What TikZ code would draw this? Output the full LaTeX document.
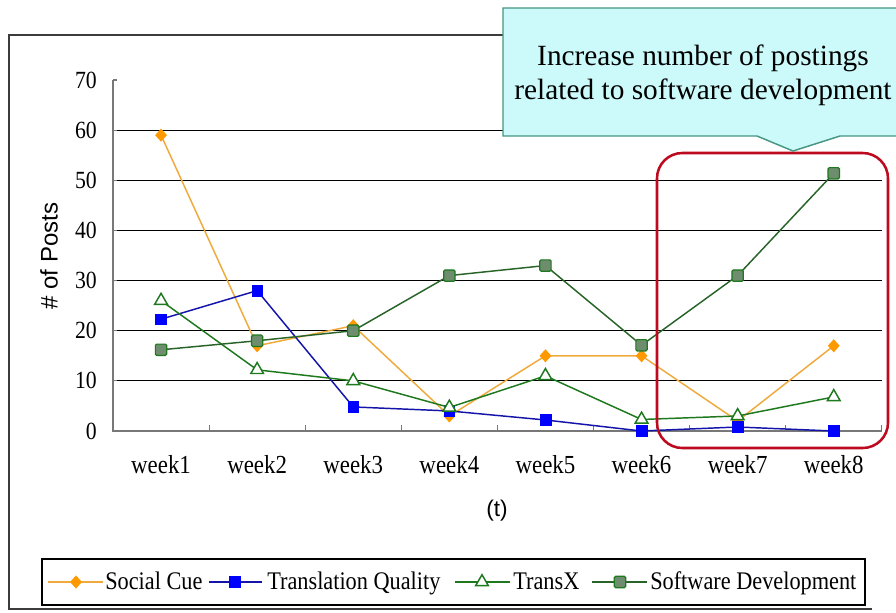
\documentclass[tikz,border=0pt]{standalone}
\usepackage{fontspec}
\setmainfont{Liberation Serif}
\newfontfamily\condserif[FakeStretch=0.88]{Liberation Serif}
\newfontfamily\arialfont{Liberation Sans}
\usetikzlibrary{shapes.geometric}

\definecolor{scOrange}{RGB}{255,153,0}
\definecolor{scLine}{RGB}{240,170,60}
\definecolor{tqBlue}{RGB}{0,0,255}
\definecolor{tqLine}{RGB}{20,20,170}
\definecolor{txGreen}{RGB}{30,120,30}
\definecolor{sdLine}{RGB}{40,100,40}
\definecolor{sdFill}{RGB}{110,140,110}
\definecolor{calloutFill}{RGB}{204,250,250}
\definecolor{calloutEdge}{RGB}{70,150,130}
\definecolor{hiRed}{RGB}{190,10,30}
\definecolor{axisGray}{RGB}{120,120,120}
\definecolor{frameGray}{RGB}{60,60,60}

\tikzset{
  gridline/.style={black, line width=0.7pt},
  axisline/.style={axisGray, line width=0.8pt},
  frameline/.style={frameGray, line width=0.8pt},
  ylab/.style={anchor=east, inner sep=0pt, font=\condserif\fontsize{18.5}{18.5}\selectfont},
  wlab/.style={anchor=center, inner sep=0pt, font=\condserif\fontsize{19.5}{19.5}\selectfont},
  legtext/.style={anchor=base west, inner sep=0pt, font=\condserif\fontsize{19}{19}\selectfont},
  scline/.style={scLine, line width=1.1pt},
  tqline/.style={tqLine, line width=1.1pt},
  txline/.style={txGreen, line width=1.1pt},
  sdline/.style={sdLine, line width=1.1pt},
  scmark/.style={diamond, fill=scOrange, draw=none, inner sep=0pt, minimum width=9pt, minimum height=10pt},
  tqmark/.style={rectangle, fill=tqBlue, draw=tqBlue, line width=0.4pt, inner sep=0pt, minimum size=8pt},
  txmark/.style={regular polygon, regular polygon sides=3, draw=txGreen, fill=white, line width=1.1pt, inner sep=0pt, minimum size=11pt},
  sdmark/.style={rectangle, rounded corners=1pt, fill=sdFill, draw=txGreen, line width=0.9pt, inner sep=0pt, minimum size=8.5pt},
}

\begin{document}
\begin{tikzpicture}[x=0.75pt,y=-0.75pt]
\useasboundingbox (0,0) rectangle (896,612);
\fill[white] (0,0) rectangle (896,612);

% chart frame
\coordinate (frTR) at (896,35);
\coordinate (frTL) at (9,35);
\coordinate (frBL) at (9,609);
\coordinate (frBR) at (872,609);
\draw[frameline] (frTR) -- (frTL) -- (frBL) -- (frBR);

% axis titles
\node[font=\arialfont\fontsize{18}{18}\selectfont, rotate=90] (ytitle) at (49,256) {\# of Posts};
\node[font=\arialfont\fontsize{17}{17}\selectfont] (xtitle) at (497,511) {(t)};

\begin{scope}[shift={(113,431)}, x=72.075pt, y=3.7605pt]
  % gridlines
  \foreach \v in {10,20,...,60} \draw[gridline] (0,\v) -- (8,\v);
  % axes
  \coordinate (ytop) at (0,70);
  \coordinate (orig) at (0,0);
  \coordinate (xend) at (8,0);
  \draw[axisline] (ytop) -- (orig) -- (xend);
  \foreach \v in {0,10,...,70} \draw[axisline] (0,\v) -- ++(3pt,0);
  \foreach \k in {1,...,8} \draw[axisline] (\k,0) -- ++(0,4.5pt);
  % labels
  \foreach \v in {0,10,...,70} \node[ylab] (yl\v) at ([xshift=-12pt]0,\v) {\v};
  \foreach \k in {1,...,8} \node[wlab] (wk\k) at ([yshift=-25.5pt]\k-0.5,0) {week\k};

  % data
  \foreach \v [count=\i] in {59,17,21,3,15,15,2,17} \coordinate (sc\i) at (\i-0.5,\v);
  \foreach \v [count=\i] in {22.3,28,4.8,4,2.2,0,0.8,0} \coordinate (tq\i) at (\i-0.5,\v);
  \foreach \v [count=\i] in {26,12.2,10,4.7,11,2.3,3,6.8} \coordinate (tx\i) at (\i-0.5,\v);
  \foreach \v [count=\i] in {16.2,18,20,31,33,17.1,31,51.4} \coordinate (sd\i) at (\i-0.5,\v);

  \draw[scline] (sc1) \foreach \i in {2,...,8} { -- (sc\i) };
  \foreach \i in {1,...,8} \node[scmark] (scm\i) at (sc\i) {};
  \draw[tqline] (tq1) \foreach \i in {2,...,8} { -- (tq\i) };
  \foreach \i in {1,...,8} \node[tqmark] (tqm\i) at (tq\i) {};
  \draw[txline] (tx1) \foreach \i in {2,...,8} { -- (tx\i) };
  \foreach \i in {1,...,8} \node[txmark] (txm\i) at (tx\i) {};
  \draw[sdline] (sd1) \foreach \i in {2,...,8} { -- (sd\i) };
  \foreach \i in {1,...,8} \node[sdmark] (sdm\i) at (sd\i) {};
\end{scope}

% highlight
\draw[hiRed, line width=1.9pt, rounded corners=19pt] (657,153) rectangle (888,448);

% callout
\coordinate (cTip) at (793,151);
\draw[calloutEdge, fill=calloutFill, line width=1.1pt]
  (503,8) -- (900,8) -- (900,136) -- (840,136) -- (cTip) -- (757,136) -- (503,136) -- cycle;
\node[font=\fontsize{22}{25.5}\selectfont, align=center, inner sep=0pt] (ctext) at (703,75)
  {Increase number of postings\\related to software development};

% legend
\draw[black, line width=0.8pt] (42,559) rectangle (865,605);
\coordinate (l1a) at (48,582);  \coordinate (l1b) at (103,582);
\coordinate (l2a) at (209,582); \coordinate (l2b) at (262,582);
\coordinate (l3a) at (455,582); \coordinate (l3b) at (510,582);
\coordinate (l4a) at (592,582); \coordinate (l4b) at (647,582);
\draw[scline] (l1a) -- (l1b);
\node[scmark] (lm1) at (76,582) {};
\draw[tqline] (l2a) -- (l2b);
\node[tqmark] (lm2) at (235,582) {};
\draw[txline] (l3a) -- (l3b);
\node[txmark] (lm3) at (482,582) {};
\draw[sdline] (l4a) -- (l4b);
\node[sdmark] (lm4) at (620,582) {};
\node[legtext] (lt1) at (105,589) {Social Cue};
\node[legtext] (lt2) at (267,589) {Translation Quality};
\node[legtext] (lt3) at (513,589) {TransX};
\node[legtext] (lt4) at (650,589) {Software Development};
\end{tikzpicture}
\end{document}
